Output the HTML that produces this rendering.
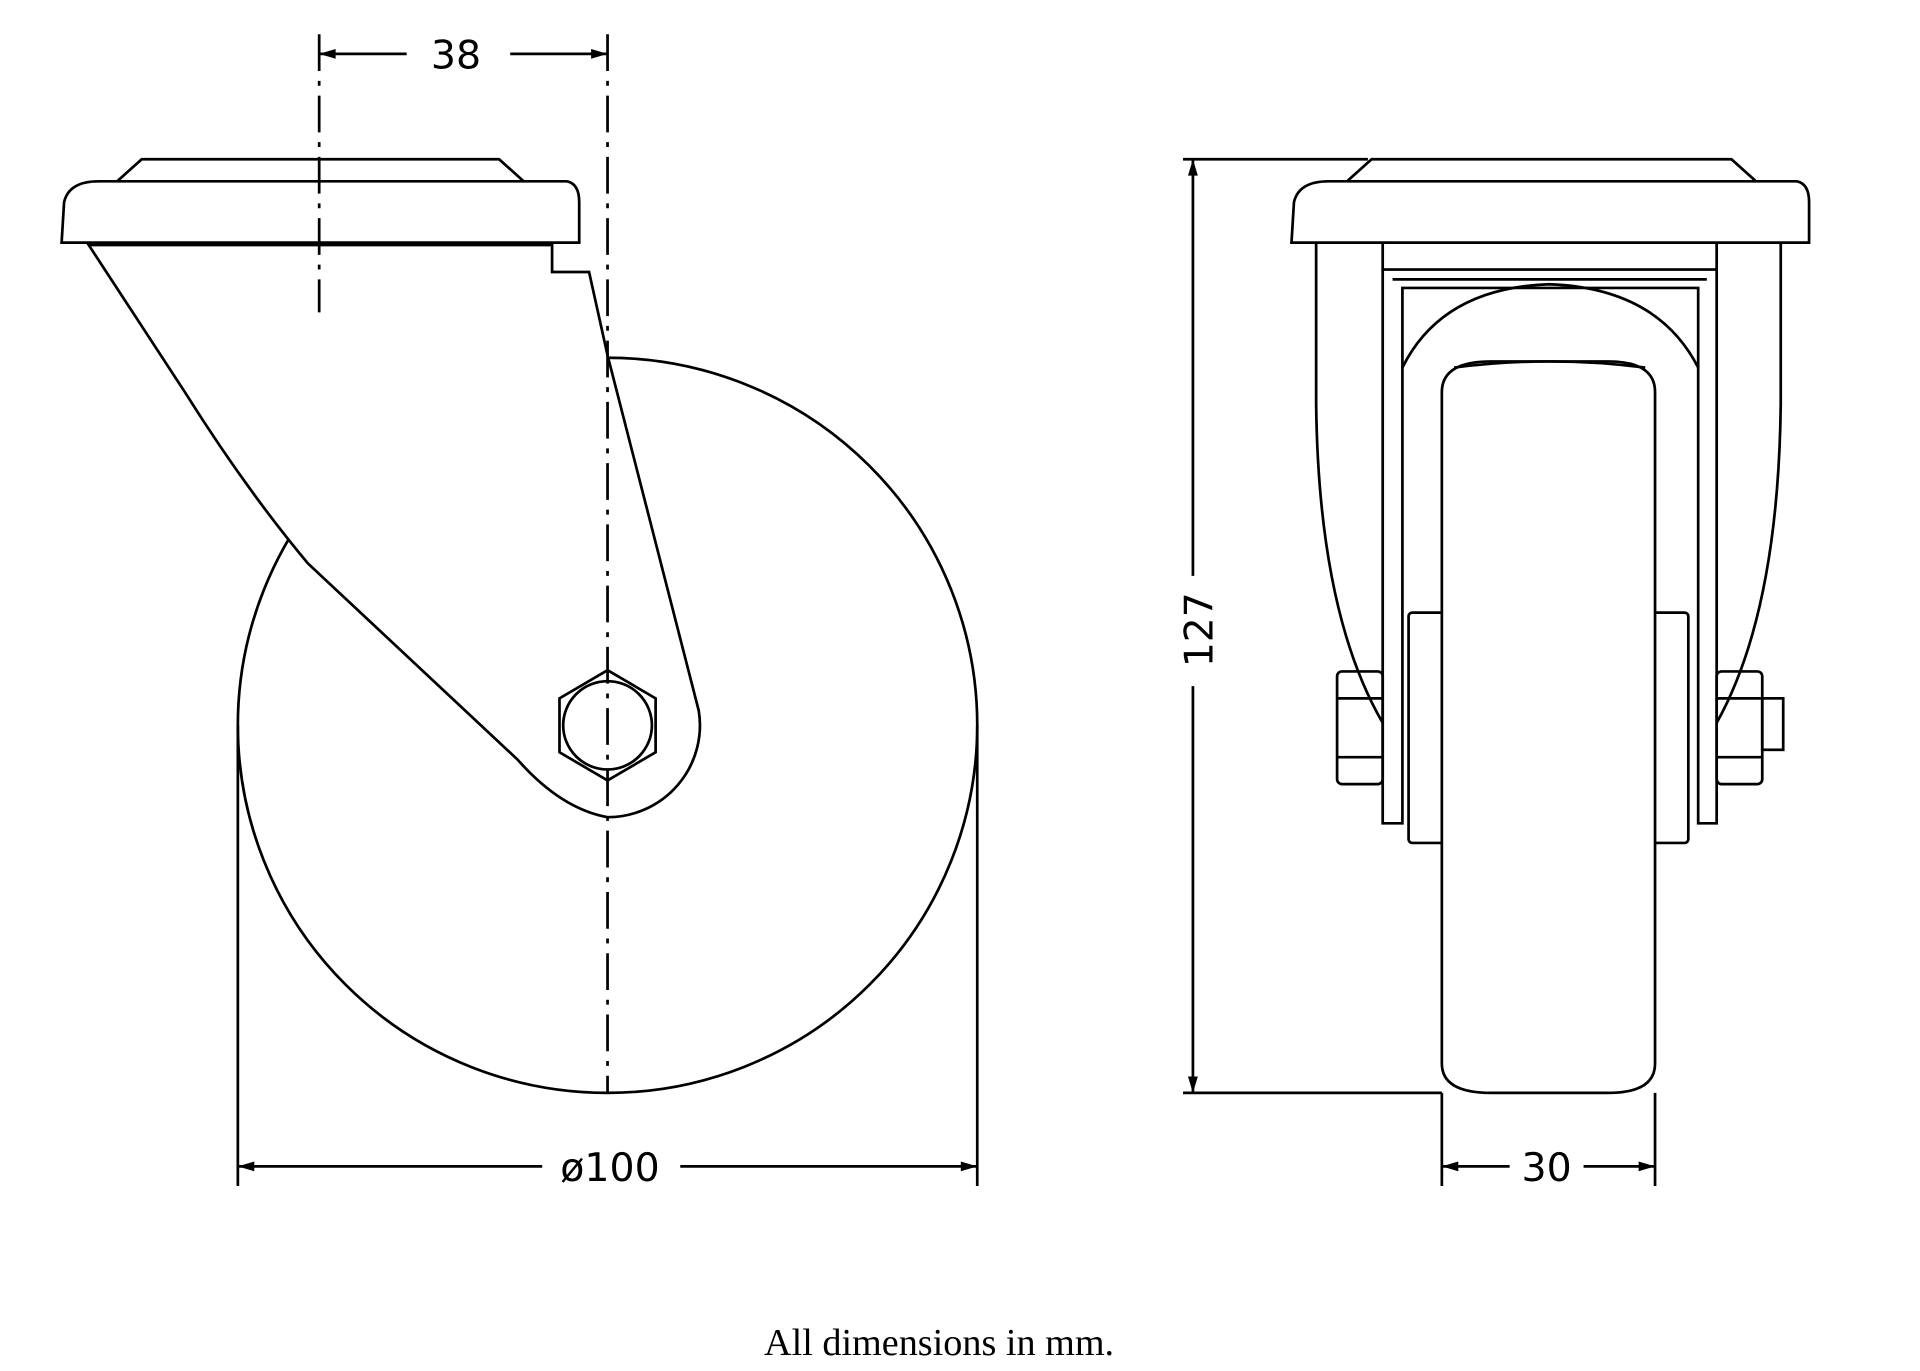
<!DOCTYPE html>
<html><head><meta charset="utf-8"><style>
html,body{margin:0;padding:0;background:#fff;}
svg{display:block;}
text{font-family:"DejaVu Sans","Liberation Sans",sans-serif;fill:#000;}
</style></head><body>
<svg width="1920" height="1371" viewBox="0 0 1558 1119" preserveAspectRatio="none" xmlns="http://www.w3.org/2000/svg">
<defs>
<marker id="a" viewBox="0 0 10 6" refX="10" refY="3" markerWidth="26" markerHeight="8" markerUnits="userSpaceOnUse" orient="auto-start-reverse"><path d="M0,0 L10,3 L0,6 z" fill="#000"/></marker>
</defs>
<g fill="none" stroke="#000" stroke-width="2.2">
<!-- LEFT VIEW -->
<circle cx="493" cy="592" r="300" fill="#fff"/>
<path d="M72,200 L150,320 Q200,400 250,460 L420,620 Q455,660 493,667 A75,75 0 0 0 567,580 L493,290 L478,222 L448,222 L448,200 Z" fill="#fff"/>
<polygon points="493,547 532,570 532,614 493,637 454,614 454,570" fill="#fff"/>
<circle cx="493" cy="592" r="36"/>
<path d="M50,198 L52,165 Q56,148 80,148 L460,148 Q470,150 470,165 L470,198 Z" fill="#fff"/>
<path d="M95,148 L115,130 L405,130 L425,148"/>
<line x1="259" y1="28" x2="259" y2="255" stroke-dasharray="30,8,4,8"/>
<line x1="493" y1="28" x2="493" y2="892" stroke-dasharray="30,8,4,8"/>
<line x1="259" y1="44" x2="330" y2="44" marker-start="url(#a)"/>
<line x1="414" y1="44" x2="493" y2="44" marker-end="url(#a)"/>
<line x1="193" y1="592" x2="193" y2="968"/>
<line x1="793" y1="592" x2="793" y2="968"/>
<line x1="193" y1="952" x2="440" y2="952" marker-start="url(#a)"/>
<line x1="552" y1="952" x2="793" y2="952" marker-end="url(#a)"/>

<!-- RIGHT VIEW -->
<path d="M1068,198 L1068,330 Q1070,500 1122,590"/>
<path d="M1445,198 L1445,330 Q1443,500 1393,590"/>
<rect x="1122" y="198" width="271" height="22"/>
<path d="M1122,220 L1122,672 L1138,672 L1138,235 L1378,235 L1378,672 L1393,672 L1393,220"/>
<path d="M1130,228 L1385,228"/>
<path d="M1138,300 Q1170,235 1257,232 Q1345,235 1378,300"/>
<rect x="1143" y="500" width="227" height="188" rx="3" fill="#fff"/>
<path d="M1170,320 Q1170,295 1210,295 L1305,295 Q1343,295 1343,320 L1343,868 Q1343,892 1305,892 L1210,892 Q1170,892 1170,868 Z" fill="#fff"/>
<path d="M1180,300 Q1257,290 1335,300"/>
<rect x="1085" y="548" width="37" height="92" rx="4"/>
<line x1="1085" y1="570" x2="1122" y2="570"/><line x1="1085" y1="618" x2="1122" y2="618"/>
<rect x="1393" y="548" width="37" height="92" rx="4"/>
<line x1="1393" y1="570" x2="1430" y2="570"/><line x1="1393" y1="618" x2="1430" y2="618"/>
<rect x="1430" y="570" width="17" height="42"/>
<path d="M1048,198 L1050,165 Q1054,148 1078,148 L1458,148 Q1468,150 1468,165 L1468,198 Z" fill="#fff"/>
<path d="M1093,148 L1113,130 L1405,130 L1425,148"/>
<line x1="960" y1="130" x2="1110" y2="130"/>
<line x1="960" y1="892" x2="1170" y2="892"/>
<line x1="968" y1="130" x2="968" y2="470" marker-start="url(#a)"/>
<line x1="968" y1="560" x2="968" y2="892" marker-end="url(#a)"/>
<line x1="1170" y1="892" x2="1170" y2="968"/>
<line x1="1343" y1="892" x2="1343" y2="968"/>
<line x1="1170" y1="952" x2="1225" y2="952" marker-start="url(#a)"/>
<line x1="1285" y1="952" x2="1343" y2="952" marker-end="url(#a)"/>
</g>
<text x="370" y="56" font-size="32" text-anchor="middle">38</text>
<text x="495" y="964" font-size="32" text-anchor="middle">ø100</text>
<text x="1255" y="964" font-size="32" text-anchor="middle">30</text>
<text x="0" y="0" font-size="32" text-anchor="middle" transform="translate(984,514) rotate(-90)">127</text>
<text x="762" y="1106" font-size="31" text-anchor="middle" style="font-family:'Liberation Serif',serif">All dimensions in mm.</text>
</svg>
</body></html>
